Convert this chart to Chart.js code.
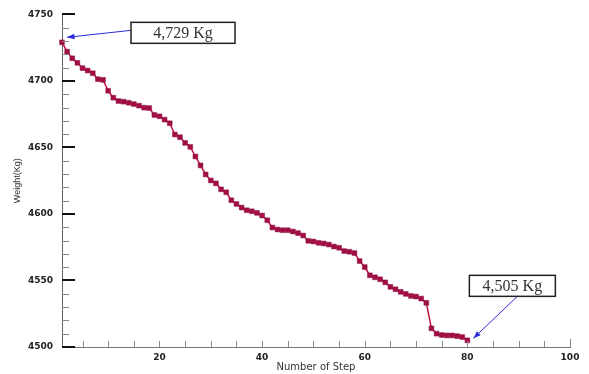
<!DOCTYPE html>
<html>
<head>
<meta charset="utf-8">
<script src="https://cdn.jsdelivr.net/npm/chart.js@4.4.1/dist/chart.umd.min.js"></script>
<style>
  html, body { margin: 0; padding: 0; background: #fff; }
  #wrap { width: 589px; height: 374px; }
</style>
</head>
<body>
<div id="wrap"><canvas id="weightChart"></canvas></div>
<script>
// weight after each optimisation step (steps 1..80)
const weights = [
  4729, 4722, 4717, 4713.6, 4709.6, 4707.8, 4705.8, 4701.3, 4700.8, 4692.6,
  4687.4, 4684.9, 4684.4, 4683.6, 4682.6, 4681.4, 4679.9, 4679.6, 4674.4, 4673.4,
  4670.9, 4668.2, 4659.7, 4657.7, 4653.4, 4650.4, 4643.2, 4636.5, 4629.7, 4625.2,
  4623, 4618.5, 4616.3, 4610.3, 4607.5, 4604.8, 4602.8, 4602, 4600.8, 4598.8,
  4595.3, 4589.8, 4588.3, 4587.8, 4587.8, 4586.8, 4585.6, 4583.8, 4579.8, 4579.3,
  4578.3, 4577.8, 4577, 4575.5, 4574.6, 4572.1, 4571.6, 4570.6, 4564.6, 4560.1,
  4553.9, 4552.4, 4550.9, 4548.6, 4545.2, 4543.4, 4541.4, 4539.9, 4538.4, 4537.9,
  4536.4, 4533.2, 4514, 4510, 4509, 4508.7, 4508.7, 4508.2, 4507.5, 4505
];
const xTicks = [20, 40, 60, 80, 100];
const yTicks = [4500, 4550, 4600, 4650, 4700, 4750];
const startLabel = "4,729 Kg";
const endLabel = "4,505 Kg";

const points = weights.map((w, i) => ({ x: i + 1, y: w }));

// ticks drawn inward from the axes, like the original plot
const innerTicks = {
  id: "innerTicks",
  afterDraw(chart) {
    const { ctx, scales: { x, y } } = chart;
    ctx.save();
    ctx.strokeStyle = "#888";
    ctx.lineWidth = 1;
    for (let v = y.min; v <= y.max; v += 10) {
      const py = Math.round(y.getPixelForValue(v)) + 0.5;
      ctx.beginPath();
      ctx.moveTo(x.left, py);
      ctx.lineTo(x.left + 7, py);
      ctx.stroke();
    }
    for (let v = 5; v <= x.max; v += 5) {
      const px = Math.round(x.getPixelForValue(v)) + 0.5;
      ctx.beginPath();
      ctx.moveTo(px, y.bottom);
      ctx.lineTo(px, y.bottom - (v === x.max ? 8 : 6));
      ctx.stroke();
    }
    ctx.strokeStyle = "#111";
    ctx.lineWidth = 2;
    yTicks.forEach(v => {
      const py = Math.round(y.getPixelForValue(v));
      ctx.beginPath();
      ctx.moveTo(x.left, py);
      ctx.lineTo(x.left + 13, py);
      ctx.stroke();
    });
    ctx.restore();
  }
};

function arrow(ctx, x1, y1, x2, y2) {
  const a = Math.atan2(y2 - y1, x2 - x1);
  ctx.beginPath();
  ctx.moveTo(x1, y1);
  ctx.lineTo(x2, y2);
  ctx.stroke();
  ctx.beginPath();
  ctx.moveTo(x2, y2);
  ctx.lineTo(x2 - 8 * Math.cos(a - 0.35), y2 - 8 * Math.sin(a - 0.35));
  ctx.lineTo(x2 - 8 * Math.cos(a + 0.35), y2 - 8 * Math.sin(a + 0.35));
  ctx.closePath();
  ctx.fill();
}

function labelBox(ctx, text, left, top, w, h) {
  ctx.fillStyle = "#fff";
  ctx.fillRect(left, top, w, h);
  ctx.strokeStyle = "#222";
  ctx.lineWidth = 1.5;
  ctx.strokeRect(left, top, w, h);
  ctx.fillStyle = "#333";
  ctx.font = "16px 'Liberation Serif'";
  ctx.textAlign = "center";
  ctx.textBaseline = "middle";
  ctx.fillText(text, left + w / 2, top + h / 2 + 1);
}

const callouts = {
  id: "callouts",
  afterDraw(chart) {
    const { ctx, scales: { x, y } } = chart;
    const first = points[0], last = points[points.length - 1];
    const fx = x.getPixelForValue(first.x), fy = y.getPixelForValue(first.y);
    const lx = x.getPixelForValue(last.x), ly = y.getPixelForValue(last.y);
    ctx.save();
    ctx.strokeStyle = "#2a2ad6";
    ctx.fillStyle = "#2a2ad6";
    ctx.lineWidth = 1;
    arrow(ctx, fx + 69, fy - 12, fx + 5, fy - 5);
    arrow(ctx, lx + 50, ly - 44, lx + 6, ly - 2);
    labelBox(ctx, startLabel, fx + 69, fy - 20, 104, 21);
    labelBox(ctx, endLabel, lx + 2, ly - 65, 86, 21);
    ctx.restore();
  }
};

new Chart(document.getElementById("weightChart"), {
  type: "line",
  data: {
    datasets: [{
      data: points,
      borderColor: "#c3143a",
      borderWidth: 1.5,
      pointStyle: "rect",
      pointRadius: 3.4,
      pointBackgroundColor: "#a30d40",
      pointBorderColor: "#8c1250",
      pointBorderWidth: 0.5,
      tension: 0,
      clip: false
    }]
  },
  options: {
    responsive: true,
    maintainAspectRatio: false,
    animation: false,
    devicePixelRatio: 1,
    layout: { padding: { left: 0, right: 19, top: 13, bottom: 0 } },
    plugins: { legend: { display: false }, tooltip: { enabled: false } },
    scales: {
      x: {
        type: "linear",
        min: 1,
        max: 100,
        afterBuildTicks: s => { s.ticks = xTicks.map(v => ({ value: v })); },
        afterFit: s => { s.height = 27; },
        grid: { display: false, drawTicks: false },
        border: { display: true, color: "#777", width: 1 },
        ticks: { padding: 5, maxRotation: 0, color: "#222", callback: v => String(v), font: { family: "DejaVu Sans", size: 9, weight: "bold" } },
        title: { display: true, text: "Number of Step", color: "#333", padding: { top: 0, bottom: 1 }, font: { family: "DejaVu Sans", size: 10 } }
      },
      y: {
        min: 4500,
        max: 4750,
        afterBuildTicks: s => { s.ticks = yTicks.map(v => ({ value: v })); },
        afterFit: s => { s.width = 62; },
        grid: { display: false, drawTicks: false },
        border: { display: true, color: "#666", width: 1 },
        ticks: { padding: 9, color: "#222", callback: v => String(v), font: { family: "DejaVu Sans", size: 9, weight: "bold" } },
        title: { display: true, text: "Weight(Kg)", color: "#333", padding: { top: 12, bottom: 0 }, font: { family: "Liberation Sans", size: 9 } }
      }
    }
  },
  plugins: [innerTicks, callouts]
});
</script>
</body>
</html>
